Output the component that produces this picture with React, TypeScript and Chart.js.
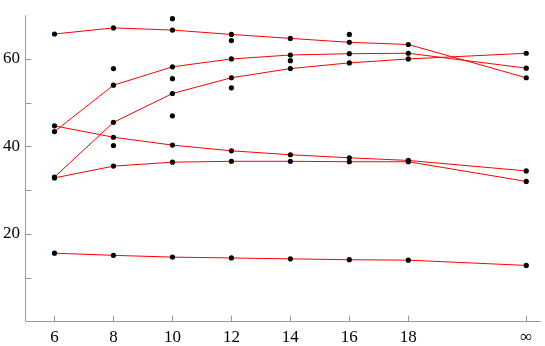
import React, { useEffect, useRef } from "react";
import { Chart, registerables } from "chart.js";

Chart.register(...registerables);

const xValues = [6, 8, 10, 12, 14, 16, 18, 22];
const xTickValues = [6, 8, 10, 12, 14, 16, 18, 22];
const yTickMarks = [10, 20, 30, 40, 50, 60];

const seriesA = [65.7, 67.1, 66.6, 65.6, 64.7, 63.8, 63.3, 55.7];
const seriesB = [43.4, 54.0, 58.2, 60.0, 60.9, 61.2, 61.3, 57.9];
const seriesE = [33.0, 45.5, 52.1, 55.7, 57.8, 59.1, 60.0, 61.3];
const seriesC = [44.7, 42.1, 40.3, 39.0, 38.1, 37.4, 36.8, 34.4];
const seriesD = [32.8, 35.5, 36.4, 36.6, 36.6, 36.5, 36.5, 32.0];
const seriesF = [15.6, 15.1, 14.7, 14.5, 14.3, 14.1, 14.0, 12.8];

const extraX = [8, 8, 10, 10, 10, 12, 12, 14, 16];
const extraY = [57.8, 40.2, 69.2, 55.5, 47.0, 64.2, 53.4, 59.6, 65.6];

const allSeries = [seriesA, seriesB, seriesE, seriesC, seriesD, seriesF];

const FONT_FAMILY = "'Liberation Serif', 'Times New Roman', Times, serif";

const axisPlugin = {
  id: "axisPlugin",
  afterDraw(chart: any) {
    const { ctx, chartArea, scales } = chart;
    const xs = scales.x;
    const ys = scales.y;
    ctx.save();
    ctx.strokeStyle = "#9a9a9a";
    ctx.lineWidth = 1;
    ctx.beginPath();
    const left = Math.round(chartArea.left) + 0.5;
    const bottom = Math.round(chartArea.bottom) + 0.5;
    ctx.moveTo(left, chartArea.top);
    ctx.lineTo(left, bottom);
    ctx.lineTo(chartArea.right, bottom);
    for (const v of xTickValues) {
      const px = Math.round(xs.getPixelForValue(v)) + 0.5;
      ctx.moveTo(px, bottom);
      ctx.lineTo(px, bottom - 6);
    }
    for (const v of yTickMarks) {
      const py = Math.round(ys.getPixelForValue(v)) + 0.5;
      ctx.moveTo(left, py);
      ctx.lineTo(left + 6, py);
    }
    ctx.stroke();
    ctx.restore();
  },
};

export default function App() {
  const ref = useRef<HTMLCanvasElement | null>(null);
  useEffect(() => {
    if (!ref.current) return;
    const lineSets = allSeries.map((s) => ({
      type: "line" as const,
      data: s.map((y, i) => ({ x: xValues[i], y })),
      borderColor: "rgb(255,0,0)",
      borderWidth: 1,
      pointRadius: 0,
      tension: 0,
      fill: false,
      order: 2,
    }));
    const dots: { x: number; y: number }[] = [];
    allSeries.forEach((s) => s.forEach((y, i) => dots.push({ x: xValues[i], y })));
    extraX.forEach((x, i) => dots.push({ x, y: extraY[i] }));
    const chart = new Chart(ref.current, {
      type: "scatter",
      data: {
        datasets: [
          {
            type: "scatter" as const,
            data: dots,
            pointRadius: 2.6,
            pointBackgroundColor: "#000",
            pointBorderWidth: 0,
            showLine: false,
            order: 1,
          } as any,
          ...lineSets,
        ],
      },
      options: {
        animation: false,
        responsive: false,
        layout: { padding: { top: 1.6, right: 2.2, left: 0, bottom: 0 } },
        plugins: { legend: { display: false }, tooltip: { enabled: false } },
        scales: {
          x: {
            type: "linear",
            min: 5,
            max: 22.5,
            grid: { display: false, drawTicks: false },
            border: { display: false },
            afterBuildTicks: (scale: any) => {
              scale.ticks = xTickValues.map((v) => ({ value: v }));
            },
            afterFit: (scale: any) => {
              scale.height = 24.6;
            },
            ticks: {
              padding: 6,
              color: "#000",
              font: { family: FONT_FAMILY, size: 17 },
              maxRotation: 0,
              autoSkip: false,
              callback: (v: any) => (v === 22 ? "∞" : String(v)),
            },
          },
          y: {
            type: "linear",
            min: 0,
            max: 70,
            grid: { display: false, drawTicks: false },
            border: { display: false },
            afterFit: (scale: any) => {
              scale.width = 25;
            },
            ticks: {
              stepSize: 10,
              padding: 5,
              color: "#000",
              font: { family: FONT_FAMILY, size: 17 },
              callback: (v: any) => (v > 0 && v % 20 === 0 ? String(v) : ""),
            },
          },
        },
      },
      plugins: [axisPlugin],
    });
    return () => chart.destroy();
  }, []);
  return (
    <div style={{ position: "fixed", left: 0, top: 0, width: 545, height: 346, background: "#fff" }}>
      <canvas ref={ref} width={545} height={346} style={{ display: "block" }} />
    </div>
  );
}
